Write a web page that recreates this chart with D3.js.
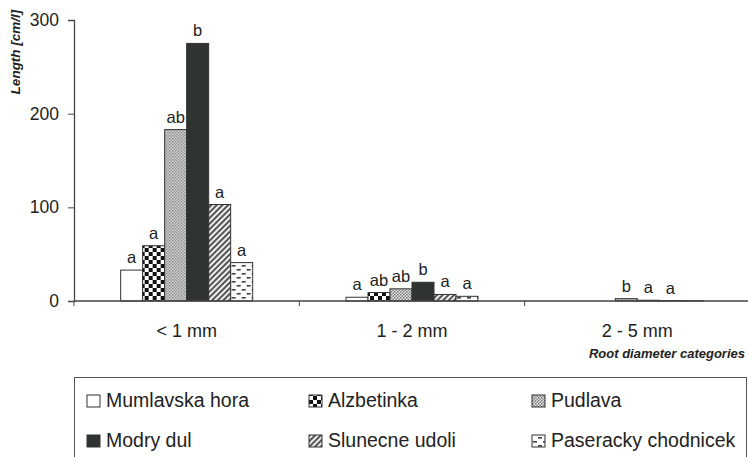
<!DOCTYPE html>
<html>
<head>
<meta charset="utf-8">
<script src="https://cdn.jsdelivr.net/npm/d3@7"></script>
<style>
  body { margin: 0; background: #fff; }
  svg text { font-family: Arial, "Liberation Sans", sans-serif; fill: #222; }
</style>
</head>
<body>
<div id="chart"></div>
<script>
var categories = ["< 1 mm", "1 - 2 mm", "2 - 5 mm"];
var sites = ["Mumlavska hora", "Alzbetinka", "Pudlava", "Modry dul", "Slunecne udoli", "Paseracky chodnicek"];

// lengths [cm/l] per site, one value per category
var mumlavska = [33, 4, 0];
var alzbetinka = [59, 9, 0];
var pudlava = [183, 13, 2.5];
var modry = [275, 20, 0.8];
var slunecne = [103, 7, 0.5];
var paseracky = [41, 5, 0.3];

// significance letters
var letters = [
    ["a", "a", "ab", "b", "a", "a"],
    ["a", "ab", "ab", "b", "a", "a"],
    ["", "", "b", "a", "a", ""]
];

var yTicks = [0, 100, 200, 300];

var series = [mumlavska, alzbetinka, pudlava, modry, slunecne, paseracky];
var fills = ["#fff", "url(#p-check)", "url(#p-dots)", "#2f3431", "url(#p-hatch)", "url(#p-dash)"];

var width = 748, height = 457;

var svg = d3.select("#chart").append("svg")
    .attr("width", width)
    .attr("height", height);

// patterns
var defs = svg.append("defs");

var check = defs.append("pattern").attr("id", "p-check")
    .attr("width", 8).attr("height", 8).attr("patternUnits", "userSpaceOnUse");
check.append("rect").attr("width", 8).attr("height", 8).attr("fill", "#fff");
check.append("rect").attr("width", 4).attr("height", 4).attr("fill", "#111");
check.append("rect").attr("x", 4).attr("y", 4).attr("width", 4).attr("height", 4).attr("fill", "#111");

var dots = defs.append("pattern").attr("id", "p-dots")
    .attr("width", 3).attr("height", 3).attr("patternUnits", "userSpaceOnUse");
dots.append("rect").attr("width", 3).attr("height", 3).attr("fill", "#e4e4e4");
dots.append("rect").attr("width", 1.5).attr("height", 1.5).attr("fill", "#777");
dots.append("rect").attr("x", 1.5).attr("y", 1.5).attr("width", 1.5).attr("height", 1.5).attr("fill", "#888");

var hatch = defs.append("pattern").attr("id", "p-hatch")
    .attr("width", 4).attr("height", 4).attr("patternUnits", "userSpaceOnUse")
    .attr("patternTransform", "rotate(45)");
hatch.append("rect").attr("width", 4).attr("height", 4).attr("fill", "#eee");
hatch.append("rect").attr("width", 2).attr("height", 4).attr("fill", "#555");

var dash = defs.append("pattern").attr("id", "p-dash")
    .attr("width", 10).attr("height", 8).attr("patternUnits", "userSpaceOnUse");
dash.append("rect").attr("width", 10).attr("height", 8).attr("fill", "#fafafa");
dash.append("rect").attr("x", 1).attr("y", 1).attr("width", 4).attr("height", 1.6).attr("fill", "#444");
dash.append("rect").attr("x", 6).attr("y", 5).attr("width", 4).attr("height", 1.6).attr("fill", "#444");

var x0 = d3.scaleBand().domain(categories).range([74, 750]);
var x1 = d3.scaleBand().domain(sites).range([0, 132]);
var y = d3.scaleLinear().domain([0, 300]).range([301, 20]);

// y axis
var yAxis = svg.append("g").attr("transform", "translate(74,0)")
    .call(d3.axisLeft(y).tickValues(yTicks).tickSize(6).tickPadding(9));
yAxis.select(".domain").attr("stroke", "#444").attr("stroke-width", 1.3);
yAxis.selectAll(".tick line").attr("stroke", "#444");
yAxis.selectAll("text").attr("font-size", 17.5).attr("fill", "#222")
    .attr("font-family", "Arial, 'Liberation Sans', sans-serif");

// bars
var groups = svg.append("g").selectAll("g")
    .data(categories)
    .enter().append("g")
    .attr("transform", function (d) { return "translate(" + (x0(d) + x0.bandwidth() / 2 - 66) + ",0)"; });

groups.selectAll("rect")
    .data(function (d, ci) {
        return sites.map(function (s, si) { return { site: s, si: si, v: series[si][ci] }; });
    })
    .enter().append("rect")
    .attr("x", function (d) { return x1(d.site); })
    .attr("y", function (d) { return y(d.v); })
    .attr("width", x1.bandwidth())
    .attr("height", function (d) { return y(0) - y(d.v); })
    .attr("fill", function (d) { return fills[d.si]; })
    .attr("stroke", "#333")
    .attr("stroke-width", function (d) { return d.v > 0 ? 1 : 0; });

groups.selectAll("text.sig")
    .data(function (d, ci) {
        return sites.map(function (s, si) { return { site: s, v: series[si][ci], t: letters[ci][si] }; });
    })
    .enter().append("text")
    .attr("class", "sig")
    .attr("x", function (d) { return x1(d.site) + x1.bandwidth() / 2; })
    .attr("y", function (d) { return y(d.v) - 7; })
    .attr("text-anchor", "middle")
    .attr("font-size", 16.5)
    .text(function (d) { return d.t; });

// x axis
var xAxis = svg.append("g").attr("transform", "translate(0," + y(0) + ")");
xAxis.append("line").attr("x1", 74).attr("x2", 750).attr("stroke", "#444").attr("stroke-width", 1.3);
xAxis.selectAll("line.sep")
    .data(categories)
    .enter().append("line")
    .attr("class", "sep")
    .attr("x1", function (d) { return x0(d); })
    .attr("x2", function (d) { return x0(d); })
    .attr("y2", 5)
    .attr("stroke", "#444");
xAxis.selectAll("text")
    .data(categories)
    .enter().append("text")
    .attr("x", function (d) { return x0(d) + x0.bandwidth() / 2; })
    .attr("y", 36)
    .attr("text-anchor", "middle")
    .attr("font-size", 18)
    .text(function (d) { return d; });

// axis titles
svg.append("text")
    .attr("transform", "translate(20,52) rotate(-90)")
    .attr("text-anchor", "middle")
    .attr("font-size", 13.5)
    .attr("font-weight", "bold")
    .attr("font-style", "italic")
    .text("Length [cm/l]");

svg.append("text")
    .attr("x", 745)
    .attr("y", 358)
    .attr("text-anchor", "end")
    .attr("font-size", 13)
    .attr("font-weight", "bold")
    .attr("font-style", "italic")
    .text("Root diameter categories");

// legend
svg.append("rect")
    .attr("x", 74.5).attr("y", 377.5)
    .attr("width", 672).attr("height", 90)
    .attr("fill", "none").attr("stroke", "#555");

var legendX = [87, 309, 532];
var legendY = [400, 440];
var legend = svg.append("g").selectAll("g")
    .data(sites)
    .enter().append("g")
    .attr("transform", function (d, i) { return "translate(" + legendX[i % 3] + "," + legendY[Math.floor(i / 3)] + ")"; });
legend.append("rect")
    .attr("x", 0).attr("y", -5)
    .attr("width", 13).attr("height", 12)
    .attr("fill", function (d, i) { return fills[i]; })
    .attr("stroke", "#333");
legend.append("text")
    .attr("x", 19)
    .attr("y", 7)
    .attr("font-size", 19.5)
    .text(function (d) { return d; });
</script>
</body>
</html>
